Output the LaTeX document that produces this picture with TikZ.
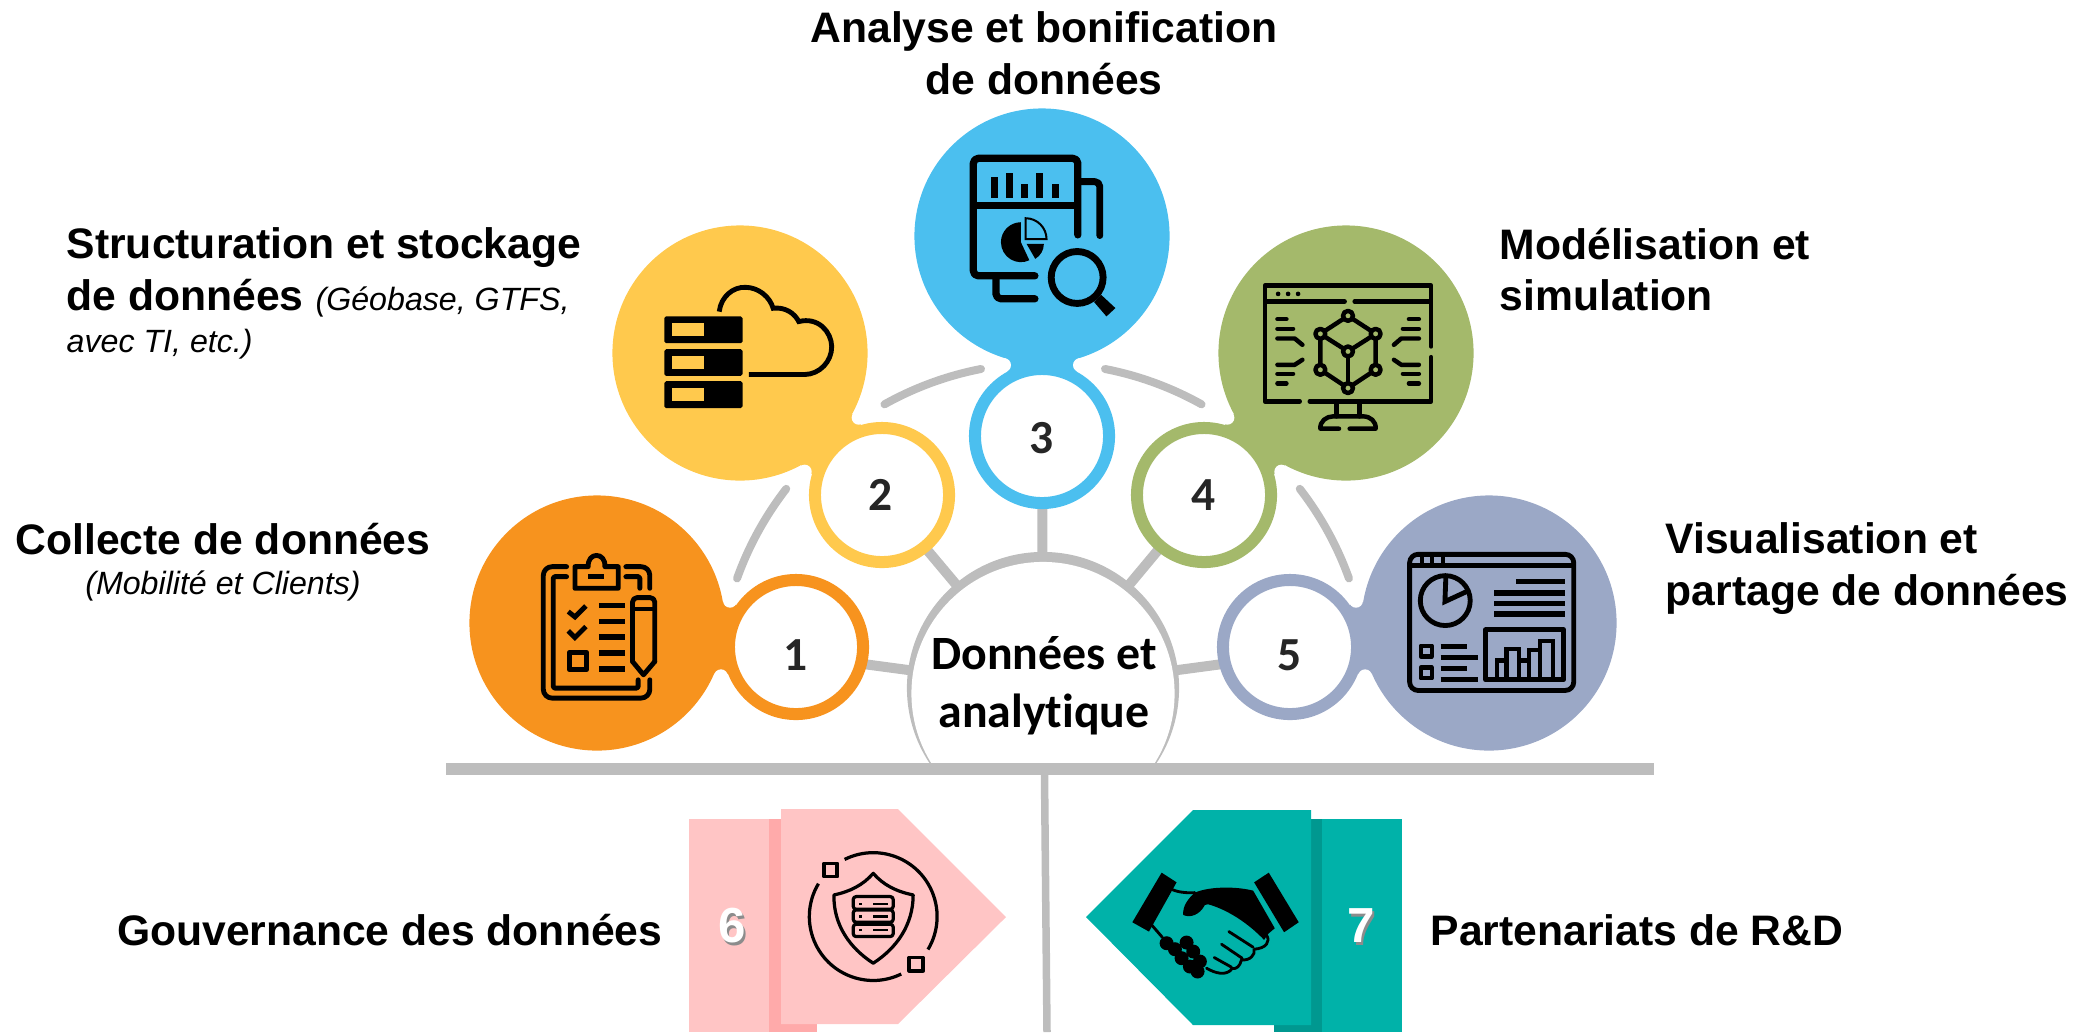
\documentclass[tikz,border=0pt]{standalone}
\usepackage{fontspec}
\setmainfont{Liberation Sans}
\newfontfamily\calfont[Ligatures=CommonOff]{Carlito}
\usetikzlibrary{calc,backgrounds}

\definecolor{orangefill}{HTML}{F7931E}
\definecolor{yellowfill}{HTML}{FFC94D}
\definecolor{bluefill}{HTML}{4BBFEF}
\definecolor{greenfill}{HTML}{A4B96B}
\definecolor{purplefill}{HTML}{9BA8C6}
\definecolor{barshade}{HTML}{BDBDBD}
\definecolor{pinkfill}{HTML}{FFC5C5}
\definecolor{pinkdark}{HTML}{FFAAAA}
\definecolor{tealfill}{HTML}{00B2A9}
\definecolor{tealdark}{HTML}{009890}
\definecolor{numink}{HTML}{262626}

\newcommand{\shadownum}[1]{\rlap{\hspace{0.7pt}\raisebox{-0.7pt}{\textcolor{black!45}{#1}}}#1}

\tikzset{
	blob/.style={circle,minimum size=2.55cm,inner sep=0pt},
	ringnode/.style={circle,draw=#1,fill=white,line width=0.12cm,minimum size=1.34cm,inner sep=0pt},
	numlabel/.style={font=\calfont\bfseries\fontsize{13.5}{16}\selectfont,text=numink,inner sep=0pt},
	spoke/.style={draw=barshade,line width=0.1cm},
	ringarc/.style={draw=barshade,line width=0.08cm,line cap=round},
	titlelabel/.style={font=\bfseries\fontsize{12.13}{14.7}\selectfont,inner sep=0pt},
	notelabel/.style={font=\itshape\fontsize{9.15}{11}\selectfont,inner sep=0pt},
	bignum/.style={font=\bfseries\fontsize{14}{16}\selectfont,text=white,inner sep=0pt},
	iconat/.style 2 args={shift={(#1,#2)},x=0.003333cm,y=-0.003333cm},
	pen/.style={draw=black,line width=#1*0.115pt,line cap=round,line join=round},
	flatpen/.style={draw=black,line width=#1*0.115pt,line cap=butt},
}

\begin{document}
\begin{tikzpicture}[x=0.01cm,y=-0.01cm]
	\useasboundingbox (0,0) rectangle (2085,1032);

	% Bubbles
	\foreach \i/\col/\bx/\by/\rx/\ry/\nx/\ny/\num in {
		1/orangefill/597/623/796/647/796/655/1,
		2/yellowfill/740/353/882/495/881/495/2,
		3/bluefill/1042/236/1042/436/1042/438/3,
		4/greenfill/1346/353/1204/495/1204/495/4,
		5/purplefill/1489/623/1290/647/1290/655/5}{
		\node[blob,fill=\col] (big\i) at (\bx,\by) {};
		\coordinate (mid\i) at (\rx,\ry);
		\fill[\col] (big\i.center) -- ($(big\i.center)!0.673!16.4:(mid\i)$) -- (mid\i) -- ($(big\i.center)!0.673!-16.4:(mid\i)$) -- cycle;
		\fill[white] ($(big\i.center)!0.673!16.4:(mid\i)$) circle (7);
		\fill[white] ($(big\i.center)!0.673!-16.4:(mid\i)$) circle (7);
		\node[ringnode=\col] (ring\i) at (mid\i) {};
		\node[numlabel] (num\i) at (\nx,\ny) {\num};
	}

	% Centre
	\begin{scope}
		\clip (800,400) rectangle (1300,763);
		\node[circle,fill=barshade,minimum size=2.72cm,inner sep=0pt] (hub) at (1043,688) {};
		\node[circle,fill=white,minimum size=2.63cm,inner sep=0pt] (hubin) at (1043,693.5) {};
	\end{scope}
	\node[align=center,font=\calfont\bfseries\fontsize{13.6}{16.4}\selectfont,inner sep=0pt] (hubtext) at (1044,686) {Données et\\analytique};

	% Spokes and arcs
	\begin{scope}[on background layer]
		\foreach \i in {1,...,5}
			\draw[spoke] (num\i.center) -- (hub.center);
		\foreach \a/\b in {199.7/217.8,240.8/259,281/299.2,322.2/340.3}
			\draw[ringarc] ([shift={(\a:325)}]hub.center) arc (\a:\b:325);
	\end{scope}

	% Bar and stem
	\fill[barshade] (446,763) rectangle (1654,775);
	\coordinate (stemtop) at (1044.5,775);
	\coordinate (stembot) at (1047,1032);
	\draw[draw=barshade,line width=0.075cm] (stemtop) -- (stembot);

	% Left arrow
	\fill[pinkfill] (689,819) rectangle (769,1032);
	\fill[pinkdark] (769,819) rectangle (817,1032);
	\fill[pinkfill] (781,809) -- (898,809) -- (1006,917) -- (898,1024) -- (781,1024) -- cycle;
	\node[bignum] (six) at (732,927) {\shadownum{6}};

	% Right arrow
	\fill[tealfill] (1322,819) rectangle (1402,1032);
	\fill[tealdark] (1274,819) rectangle (1322,1032);
	\fill[tealfill] (1311,810) -- (1193,810) -- (1086,917) -- (1193,1025) -- (1311,1025) -- cycle;
	\node[bignum] (seven) at (1361,927) {\shadownum{7}};

	% Labels
	\node[titlelabel,align=center] (lab3) at (1044,53) {Analyse et bonification\\de données};
	\node[titlelabel,align=left,anchor=north west] (lab2) at (66,227) {Structuration et stockage\\de données {\mdseries\itshape\fontsize{9.15}{11}\selectfont (Géobase, GTFS,}\\[-2.8pt]{\mdseries\itshape\fontsize{9.15}{11}\selectfont avec TI, etc.)}};
	\node[titlelabel,align=left,anchor=north west] (lab4) at (1499,227) {Modélisation et\\simulation};
	\node[titlelabel] (lab1) at (223,539) {Collecte de données};
	\node[notelabel] (note1) at (223,586) {(Mobilité et Clients)};
	\node[titlelabel,align=left,anchor=north west] (lab5) at (1665,522) {Visualisation et\\partage de données};
	\node[titlelabel,anchor=east] (lab6) at (663,930) {Gouvernance des données};
	\node[titlelabel,anchor=west] (lab7) at (1430,930) {Partenariats de R\&D};

	% Icon 1
	\begin{scope}[iconat={530}{545}]
		\draw[pen=12,rounded corners=2.5pt] (110,65) -- (40,65) -- (40,460) -- (360,460) -- (360,405);
		\draw[pen=12,rounded corners=2.5pt] (288,65) -- (360,65) -- (360,130);
		\draw[pen=12,rounded corners=0.4pt] (110,95) -- (70,95) -- (70,430) -- (325,430) -- (325,405);
		\draw[pen=12,rounded corners=0.4pt] (288,95) -- (330,95) -- (330,130);
		\draw[pen=12] (135,130) -- (135,65) -- (175,65) .. controls (172,20) and (228,20) .. (225,65) -- (265,65) -- (265,130) -- cycle;
		\draw[flatpen=12] (175,95) -- (222,95);
		\draw[flatpen=12] (115,200) -- (135,216) -- (168,183);
		\draw[flatpen=12] (115,258) -- (135,278) -- (168,245);
		\draw[pen=12] (118,322) rectangle (170,375);
		\foreach \y in {182,230,277,325,372}
			\draw[flatpen=14] (207,\y) -- (285,\y);
		\draw[pen=12,rounded corners=1.3pt] (308,350) -- (308,158) -- (375,158) -- (375,350);
		\draw[pen=12] (308,350) -- (341,390) -- (375,350);
		\draw[flatpen=10] (308,192) -- (375,192);
	\end{scope}

	% Icon 2
	\begin{scope}[iconat={655}{275}]
		\foreach \t/\b in {124/205,223/303,319/400}{
			\fill[black,rounded corners=0.5pt] (28,\t) rectangle (263,\b);
			\fill[yellowfill] (50,\t+21) rectangle (146,\t+59);
		}
		\draw[flatpen=12] (193,110) .. controls (198,65) and (235,35) .. (272,37) .. controls (310,37) and (345,65) .. (355,100) .. controls (390,95) and (420,115) .. (432,140) .. controls (490,125) and (530,170) .. (531,215) .. controls (531,260) and (495,298) .. (450,299) -- (282,299);
	\end{scope}

	% Icon 3
	\begin{scope}[iconat={960}{145}]
		\draw[pen=18,rounded corners=1.4pt] (354,270) -- (354,40) -- (40,40) -- (40,393) -- (225,393);
		\draw[flatpen=17] (40,182) -- (354,182);
		\draw[pen=17,rounded corners=1.4pt] (362,110) -- (420,110) -- (420,272);
		\draw[pen=18,rounded corners=1.4pt] (108,393) -- (108,462) -- (225,462);
		\foreach \l/\t in {92/95,137/83,183/117,229/83,275/117}
			\fill[black] (\l,\t) rectangle (\l+21,160);
		\fill[black] (183,292) -- ++(270:60) arc (270:65:60) -- cycle;
		\draw[flatpen=5] (197,283) -- (197,220) arc (270:360:63) -- cycle;
		\fill[black] (200,297) -- ++(0:52) arc (0:60:52) -- cycle;
		\draw[flatpen=17] (352,398) circle (78);
		\fill[black] (412,462) -- (424,450) -- (467,490) -- (440,515) -- (403,472) -- cycle;
	\end{scope}

	% Icon 4
	\begin{scope}[iconat={1130}{220}]
		\draw[pen=11] (510,545) -- (405,545) -- (405,197) -- (905,197) -- (905,380);
		\draw[pen=11] (905,412) -- (905,545) -- (540,545);
		\draw[pen=11] (410,245) -- (645,245);
		\draw[pen=11] (675,245) -- (900,245);
		\foreach \x in {445,475,505}
			\fill[black] (\x,222) circle (7);
		\foreach \x/\u/\v in {443/470/298,443/490/327,443/490/462,443/470/491,838/868/298,820/868/327,820/868/462,838/868/491}
			\draw[pen=11] (\x,\v) -- (\u,\v);
		\draw[pen=11] (443,356) -- (495,356) -- (518,375);
		\draw[pen=11] (518,420) -- (495,435) -- (443,435);
		\draw[pen=11] (868,356) -- (815,356) -- (793,375);
		\draw[pen=11] (793,420) -- (815,435) -- (868,435);
		\draw[pen=11] (655,288) -- (572,342) -- (655,395) -- (738,342) -- cycle;
		\draw[pen=11] (572,342) -- (572,450) -- (655,505) -- (738,450) -- (738,342);
		\draw[pen=11] (655,395) -- (655,505);
		\foreach \x/\y in {655/288,572/342,738/342,655/395,572/450,738/450,655/505}
			\draw[pen=11,fill=greenfill] (\x,\y) circle (15);
		\draw[pen=11] (620,550) -- (620,590);
		\draw[pen=11] (690,550) -- (690,590);
		\draw[pen=11] (628,627) -- (572,627) .. controls (570,605) and (590,590) .. (610,590) -- (700,590) .. controls (722,590) and (740,605) .. (738,627) -- (660,627);
	\end{scope}

	% Icon 5
	\begin{scope}[iconat={1395}{545}]
		\draw[flatpen=12,rounded corners=2.4pt] (44,28) rectangle (537,437);
		\draw[flatpen=12] (44,62) -- (537,62);
		\foreach \x in {80,112,143}
			\draw[flatpen=10] (\x,28) -- (\x,62);
		\draw[flatpen=12] (151,167) circle (75);
		\draw[flatpen=12] (153,90) -- (150,170) -- (215,140);
		\draw[flatpen=14] (365,110) -- (512,110);
		\foreach \y in {144,176,208}
			\draw[flatpen=14] (298,\y) -- (512,\y);
		\draw[pen=12] (272,255) rectangle (507,405);
		\draw[flatpen=10] (305,405) -- (305,347) -- (335,347) -- (335,405);
		\draw[flatpen=10] (335,347) -- (335,312) -- (372,312) -- (372,405);
		\draw[flatpen=10] (372,347) -- (402,347);
		\draw[flatpen=10] (402,405) -- (402,315) -- (437,315) -- (437,405);
		\draw[flatpen=10] (437,315) -- (437,288) -- (475,288) -- (475,405);
		\draw[pen=10] (77,302) rectangle (110,335);
		\draw[pen=10] (77,368) rectangle (110,401);
		\foreach \e/\y in {217/305,250/337,217/370,250/403}
			\draw[flatpen=13] (137,\y) -- (\e,\y);
	\end{scope}

	% Icon 6
	\begin{scope}[iconat={800}{845}]
		\draw[flatpen=8] ([shift={(243.4:192)}]220,215) arc (243.4:391:192);
		\draw[flatpen=8] ([shift={(64:192)}]220,215) arc (64:211:192);
		\draw[pen=9] (72,55) rectangle (112,95);
		\draw[pen=9] (328,338) rectangle (370,378);
		\draw[pen=8] (220,85) .. controls (190,120) and (150,140) .. (102,150) .. controls (100,240) and (150,310) .. (220,355) .. controls (290,310) and (340,240) .. (340,150) .. controls (290,140) and (250,120) .. cycle;
		\foreach \t/\b/\m in {155/193/177,195/232/215,238/275/255}{
			\draw[pen=8,rounded corners=0.8pt] (160,\t) rectangle (280,\b);
			\fill[black] (176,\m-4) rectangle (185,\m+4);
			\fill[black] (218,\m-4) rectangle (265,\m+4);
		}
	\end{scope}

	% Icon 7
	\begin{scope}[iconat={1125}{860}]
		\fill[black] (110,38) -- (155,67) -- (72,215) -- (22,187) -- cycle;
		\fill[black] (388,67) -- (432,38) -- (522,187) -- (478,217) -- cycle;
		\draw[pen=7] (135,85) .. controls (150,95) and (180,100) .. (210,98);
		\fill[black] (210,98) .. controls (250,80) and (330,78) .. (385,92) -- (450,205) -- (430,222) -- (418,240) .. controls (370,190) and (310,150) .. (250,133) -- (240,135) .. controls (225,165) and (195,175) .. (175,165) .. controls (172,140) and (190,115) .. cycle;
		\draw[pen=7] (312,215) -- (385,262);
		\draw[pen=7] (290,253) -- (352,295);
		\draw[pen=7] (268,293) -- (320,322);
		\draw[pen=7] (425,225) .. controls (438,245) and (425,265) .. (388,268) .. controls (392,285) and (375,303) .. (350,300) .. controls (345,320) and (335,328) .. (322,326) .. controls (305,350) and (270,340) .. (245,325);
		\draw[pen=7] (80,195) -- (112,232);
		\foreach \x/\y in {125/250,150/268,185/248,205/275,170/295,225/305,195/320,218/335}
			\fill[black] (\x,\y) circle (21);
	\end{scope}

\end{tikzpicture}
\end{document}
